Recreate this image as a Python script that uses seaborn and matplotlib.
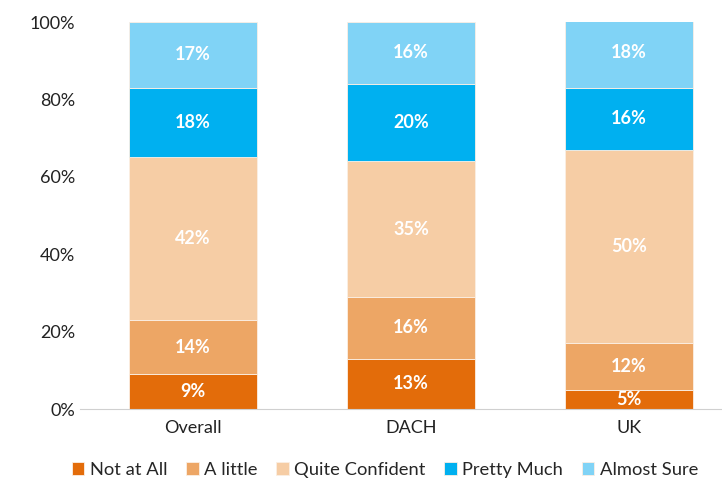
import matplotlib
matplotlib.use('Agg')
import matplotlib.pyplot as plt
import seaborn as sns
import pandas as pd
import numpy as np
from matplotlib.ticker import PercentFormatter

# Data
regions = ['Overall', 'DACH', 'UK']
levels = ['Not at All', 'A little', 'Quite Confident', 'Pretty Much', 'Almost Sure']
not_at_all = [9, 13, 5]
a_little = [14, 16, 12]
quite_confident = [42, 35, 50]
pretty_much = [18, 20, 16]
almost_sure = [17, 16, 18]
colors = ['#E36C0A', '#EDA665', '#F6CDA5', '#00B0F0', '#80D3F6']

df = pd.DataFrame({
    'Region': regions,
    'Not at All': not_at_all,
    'A little': a_little,
    'Quite Confident': quite_confident,
    'Pretty Much': pretty_much,
    'Almost Sure': almost_sure,
})

sns.set_style('white')
plt.rcParams['font.family'] = ['Lato', 'DejaVu Sans']

fig = plt.figure(figsize=(7.22, 4.79), dpi=100)
ax = fig.add_axes([80 / 722, 70 / 479, 642 / 722, 387 / 479])

bottom = np.zeros(len(regions))
for level, color in zip(levels, colors):
    vals = df[level].to_numpy() / 100
    sns.barplot(x=df['Region'], y=vals, bottom=bottom, color=color, width=0.587,
                ax=ax, label=level, saturation=1, linewidth=0.6, edgecolor='#FBEFE4')
    for i, v in enumerate(vals):
        ax.text(i, bottom[i] + v / 2, f'{int(round(v * 100))}%', ha='center', va='center',
                color='white', fontsize=13, fontweight='bold')
    bottom += vals

ax.set_ylim(0, 1)
ax.set_xlim(-0.518, 2.427)
ax.yaxis.set_major_formatter(PercentFormatter(1.0, decimals=0))
ax.set_yticks(np.arange(0, 1.01, 0.2))
ax.set_xlabel('')
ax.set_ylabel('')
ax.tick_params(axis='both', labelsize=13, length=0, colors='#222222')
ax.tick_params(axis='x', pad=8)
for side in ['top', 'right', 'left']:
    ax.spines[side].set_visible(False)
ax.spines['bottom'].set_color('#D0D0D0')

ax.legend(loc='lower center', bbox_to_anchor=(0.475, -0.22), ncol=5, frameon=False,
          fontsize=13.2, handlelength=0.7, handleheight=0.7, handletextpad=0.3,
          columnspacing=1.0)

plt.savefig('out.png', dpi=100)
plt.close()
